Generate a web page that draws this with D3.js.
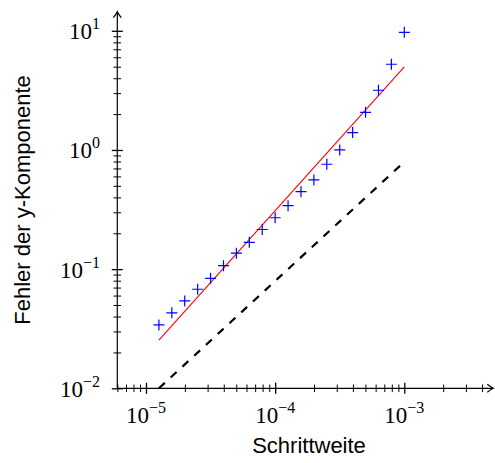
<!DOCTYPE html>
<html>
<head>
<meta charset="utf-8">
<script src="https://cdn.jsdelivr.net/npm/d3@7"></script>
<style>
  html, body { margin: 0; padding: 0; background: #fff; }
  svg { display: block; }
</style>
</head>
<body>
<svg id="chart" width="495" height="463"></svg>
<script>
// Step sizes h and the measured error of the y component
const stepSizes = [1.259e-5, 1.585e-5, 1.995e-5, 2.512e-5, 3.162e-5, 3.981e-5, 5.012e-5, 6.310e-5, 7.943e-5, 1.0e-4,
                   1.259e-4, 1.585e-4, 1.995e-4, 2.512e-4, 3.162e-4, 3.981e-4, 5.012e-4, 6.310e-4, 7.943e-4, 1.0e-3];
const errorY = [0.0340, 0.0430, 0.0541, 0.0678, 0.0838, 0.107, 0.136, 0.168, 0.215, 0.270,
                0.341, 0.447, 0.560, 0.759, 1.00, 1.40, 2.07, 3.17, 5.24, 9.71];

// Fitted line through the errors
const fitStep = [1.259e-5, 1.0e-3];
const fitError = [0.0254, 4.97];

// Reference line of order one
const refStep = [1.259e-5, 1.0e-3];
const refError = [0.01, 0.794];

// Decade tick exponents
const xTickExponents = [-5, -4, -3];
const yTickExponents = [-2, -1, 0, 1];
const minorDigits = [2, 3, 4, 5, 6, 7, 8, 9];

const xLabel = "Schrittweite";
const yLabel = "Fehler der y-Komponente";

const svg = d3.select("#chart");

const axisLeftX = 117.3, axisRightX = 493.3;
const axisBottomY = 388.3, axisTopY = 11.7;

const x = d3.scaleLog().domain([1e-5, 1e-3]).range([146, 404.3]);
const y = d3.scaleLog().domain([1e-2, 1e1]).range([388.3, 30.8]);

const xLo = x.invert(axisLeftX), xHi = x.invert(axisRightX - 4);
const yLo = 1e-2, yHi = y.invert(axisTopY + 4);

function minorTicks(lo, hi) {
  const out = [];
  for (let e = Math.floor(Math.log10(lo)) - 1; e <= Math.ceil(Math.log10(hi)); e++) {
    minorDigits.forEach(d => {
      const v = d * Math.pow(10, e);
      if (v >= lo * 1.0001 && v <= hi) out.push(v);
    });
  }
  return out;
}
const xMajor = xTickExponents.map(e => Math.pow(10, e));
const yMajor = yTickExponents.map(e => Math.pow(10, e));
const xMinor = minorTicks(xLo, xHi);
const yMinor = minorTicks(yLo, yHi);

const majorLen = 5.5, minorLen = 3.8;

// ticks crossing the axis lines
function styleTicks(g, w) {
  g.select(".domain").remove();
  g.selectAll("text").remove();
  g.selectAll("line").attr("stroke", "#000").attr("stroke-width", w);
}
svg.append("g")
  .attr("transform", `translate(0,${axisBottomY - minorLen})`)
  .call(d3.axisBottom(x).tickValues(xMinor).tickSize(2 * minorLen).tickSizeOuter(0))
  .call(g => styleTicks(g, 1));
svg.append("g")
  .attr("transform", `translate(0,${axisBottomY - majorLen})`)
  .call(d3.axisBottom(x).tickValues(xMajor).tickSize(2 * majorLen).tickSizeOuter(0))
  .call(g => styleTicks(g, 1.3));
svg.append("g")
  .attr("transform", `translate(${axisLeftX + minorLen},0)`)
  .call(d3.axisLeft(y).tickValues(yMinor).tickSize(2 * minorLen).tickSizeOuter(0))
  .call(g => styleTicks(g, 1));
svg.append("g")
  .attr("transform", `translate(${axisLeftX + majorLen},0)`)
  .call(d3.axisLeft(y).tickValues(yMajor).tickSize(2 * majorLen).tickSizeOuter(0))
  .call(g => styleTicks(g, 1.3));

// axis lines with open arrow tips
svg.append("line")
  .attr("x1", axisLeftX).attr("x2", axisRightX - 0.5)
  .attr("y1", axisBottomY).attr("y2", axisBottomY)
  .attr("stroke", "#000").attr("stroke-width", 1.2);
svg.append("line")
  .attr("x1", axisLeftX).attr("x2", axisLeftX)
  .attr("y1", axisBottomY).attr("y2", axisTopY + 0.5)
  .attr("stroke", "#000").attr("stroke-width", 1.2);
svg.append("path")
  .attr("d", `M${axisRightX - 6},${axisBottomY - 4} Q${axisRightX - 2},${axisBottomY - 0.8} ${axisRightX},${axisBottomY} Q${axisRightX - 2},${axisBottomY + 0.8} ${axisRightX - 6},${axisBottomY + 4}`)
  .attr("fill", "none").attr("stroke", "#000").attr("stroke-width", 1.2);
svg.append("path")
  .attr("d", `M${axisLeftX - 4},${axisTopY + 6} Q${axisLeftX - 0.8},${axisTopY + 2} ${axisLeftX},${axisTopY} Q${axisLeftX + 0.8},${axisTopY + 2} ${axisLeftX + 4},${axisTopY + 6}`)
  .attr("fill", "none").attr("stroke", "#000").attr("stroke-width", 1.2);

// decade tick labels as 10^e
const serif = "'Liberation Serif', 'Times New Roman', serif";
function powerLabel(sel, e) {
  sel.append("tspan").text("10");
  sel.append("tspan").attr("dy", -10).attr("font-size", 16)
    .text(e < 0 ? "\u2212" + Math.abs(e) : String(e));
}
xTickExponents.forEach(e => {
  svg.append("text")
    .attr("x", x(Math.pow(10, e))).attr("y", 423)
    .attr("text-anchor", "middle")
    .attr("font-family", serif).attr("font-size", 23)
    .call(t => powerLabel(t, e));
});
yTickExponents.forEach(e => {
  svg.append("text")
    .attr("x", 100).attr("y", y(Math.pow(10, e)) + 8.5)
    .attr("text-anchor", "end")
    .attr("font-family", serif).attr("font-size", 23)
    .call(t => powerLabel(t, e));
});

// axis titles
const sans = "'Liberation Sans', Arial, Helvetica, sans-serif";
svg.append("text")
  .attr("x", 309).attr("y", 453)
  .attr("text-anchor", "middle")
  .attr("font-family", sans).attr("font-size", 22)
  .text(xLabel);
svg.append("text")
  .attr("transform", `translate(30,200) rotate(-90)`)
  .attr("text-anchor", "middle")
  .attr("font-family", sans).attr("font-size", 22)
  .text(yLabel);

const line = d3.line().x(d => x(d[0])).y(d => y(d[1]));

// reference line, dashed
svg.append("path")
  .attr("d", line(d3.zip(refStep, refError)))
  .attr("fill", "none").attr("stroke", "#000")
  .attr("stroke-width", 2.2).attr("stroke-dasharray", "8,8");

// fitted line
svg.append("path")
  .attr("d", line(d3.zip(fitStep, fitError)))
  .attr("fill", "none").attr("stroke", "#ff0000")
  .attr("stroke-width", 1.1);

// measured errors as plus markers
const m = 5.5;
svg.append("g").selectAll("path")
  .data(d3.zip(stepSizes, errorY))
  .join("path")
  .attr("d", d => {
    const cx = x(d[0]), cy = y(d[1]);
    return `M${cx - m},${cy}H${cx + m}M${cx},${cy - m}V${cy + m}`;
  })
  .attr("fill", "none").attr("stroke", "#0000ff").attr("stroke-width", 1.2);
</script>
</body>
</html>
